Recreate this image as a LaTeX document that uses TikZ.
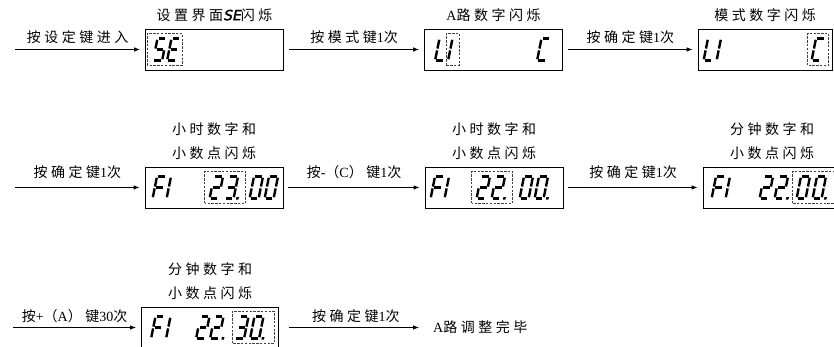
\documentclass[tikz,border=0pt]{standalone}
\usepackage{fontspec}
\setmainfont{Noto Sans CJK SC}[LetterSpace=25]
\newfontfamily\latn{Liberation Serif}
\newfontfamily\segfont[FakeSlant=0.2,FakeBold=2]{DejaVu Sans}
\usetikzlibrary{arrows.meta,positioning}

% segments of one digit (W=9, H=22)
\newcommand{\sgA}{\draw[segline] (1.3,22) -- (7.7,22);}
\newcommand{\sgB}{\draw[segline] (9,20.7) -- (9,11.9);}
\newcommand{\sgC}{\draw[segline] (9,10.1) -- (9,1.3);}
\newcommand{\sgD}{\draw[segline] (1.3,0) -- (7.7,0);}
\newcommand{\sgE}{\draw[segline] (0,1.3) -- (0,10.1);}
\newcommand{\sgF}{\draw[segline] (0,11.9) -- (0,20.7);}
\newcommand{\sgG}{\draw[segline] (1.3,11) -- (7.7,11);}
\newcommand{\sgP}{\fill (11.5,-1.2) rectangle +(2.5,2.5);}
% \segdig{screen}{x offset}{segments}
\newcommand{\segdig}[3]{%
  \begin{scope}[shift={(#1.west)}, xshift=#2pt, yshift=-11pt, xslant=0.2]
    \foreach \s in {#3} {\csname sg\s\endcsname}
  \end{scope}}
% \flashbox{screen}{from}{to}
\newcommand{\flashbox}[3]{%
  \draw[flash] ([xshift=#2pt,yshift=-16pt]#1.west) rectangle ([xshift=#3pt,yshift=16pt]#1.west);}

\begin{document}
\begin{tikzpicture}[x=1pt, y=1pt, >={Latex[length=6pt,width=4.5pt]},
    screen/.style={draw, line width=0.8pt, minimum width=138pt, minimum height=41pt, inner sep=0pt},
    segline/.style={line width=2.4pt},
    flash/.style={draw=black!75, line width=0.7pt, dash pattern=on 2.4pt off 1.4pt},
    flow/.style={->, line width=0.8pt, shorten <=5pt, shorten >=5pt},
    heading/.style={inner sep=0pt, align=center, font=\fontsize{14}{24}\selectfont},
    hint/.style={inner sep=0pt, font=\fontsize{14}{16}\selectfont}]
  \useasboundingbox (0,0) rectangle (834,347);

  % erste Zeile
  \node[screen] (b1) at (214.5,297.5) {};
  \node[screen] (b2) at (493.5,297.5) {};
  \node[screen, minimum width=134pt] (b3) at (765,297.5) {};
  \node[heading, above=7pt of b1] (t1) {设置界面{\segfont SE}闪烁};
  \node[heading, above=7pt of b2] (t2) {{\latn A}路数字闪烁};
  \node[heading, above=7pt of b3] (t3) {模式数字闪烁};
  \coordinate (s1) at (10,297.5);
  \draw[flow] (s1) -- (b1) node[midway, hint, above=5pt] {按设定键进入};
  \draw[flow] (b1) -- (b2) node[midway, hint, above=5pt] {按模式键{\latn 1}次};
  \draw[flow] (b2) -- (b3) node[midway, hint, above=5pt] {按确定键{\latn 1}次};

  \segdig{b1}{8}{A,F,G,C,D}
  \segdig{b1}{22}{A,F,G,E,D}
  \flashbox{b1}{2}{37}
  \segdig{b2}{11}{F,E,D}
  \segdig{b2}{24}{F,E}
  \flashbox{b2}{22}{35}
  \segdig{b2}{113}{A,F,E,D}
  \segdig{b3}{6}{F,E,D}
  \segdig{b3}{19}{F,E}
  \segdig{b3}{114}{A,F,E,D}
  \flashbox{b3}{110}{131}

  % zweite Zeile
  \node[screen] (c1) at (214,159.5) {};
  \node[screen] (c2) at (494,159.5) {};
  \node[screen] (c3) at (772,159.5) {};
  \node[heading, above=7pt of c1] (t4) {小时数字和\\小数点闪烁};
  \node[heading, above=7pt of c2] (t5) {小时数字和\\小数点闪烁};
  \node[heading, above=7pt of c3] (t6) {分钟数字和\\小数点闪烁};
  \coordinate (s2) at (10,159.5);
  \draw[flow] (s2) -- (c1) node[midway, hint, above=8pt] {按确定键{\latn 1}次};
  \draw[flow] (c1) -- (c2) node[midway, hint, above=8pt] {按{\latn -}（{\latn C}）键{\latn 1}次};
  \draw[flow] (c2) -- (c3) node[midway, hint, above=8pt] {按确定键{\latn 1}次};

  \segdig{c1}{8}{A,F,G,E}
  \segdig{c1}{22}{F,E}
  \segdig{c1}{65}{A,B,G,E,D}
  \segdig{c1}{80}{A,B,G,C,D,P}
  \flashbox{c1}{60}{101}
  \segdig{c1}{105}{A,B,C,D,E,F}
  \segdig{c1}{120}{A,B,C,D,E,F}

  \segdig{c2}{6}{A,F,G,E}
  \segdig{c2}{20}{F,E}
  \segdig{c2}{52}{A,B,G,E,D}
  \segdig{c2}{67}{A,B,G,E,D,P}
  \flashbox{c2}{47}{88}
  \segdig{c2}{95}{A,B,C,D,E,F}
  \segdig{c2}{110}{A,B,C,D,E,F,P}

  \segdig{c3}{9}{A,F,G,E}
  \segdig{c3}{23}{F,E}
  \segdig{c3}{57}{A,B,G,E,D}
  \segdig{c3}{72}{A,B,G,E,D,P}
  \flashbox{c3}{90}{145}
  \segdig{c3}{94}{A,B,C,D,E,F}
  \segdig{c3}{110}{A,B,C,D,E,F,P}

  % dritte Zeile
  \node[screen, minimum width=137pt] (d1) at (210,19.5) {};
  \node[heading, above=7pt of d1] (t7) {分钟数字和\\小数点闪烁};
  \node[hint, anchor=west] (done) at (433,19.5) {{\latn A}路调整完毕};
  \coordinate (s3) at (8,19.5);
  \draw[flow] (s3) -- (d1) node[midway, hint, above=4pt] {按{\latn +}（{\latn A}）键{\latn 30}次};
  \draw[flow, shorten <=10pt, shorten >=14pt] (d1) -- (done) node[midway, hint, above=4pt] {按确定键{\latn 1}次};

  \segdig{d1}{10}{A,F,G,E}
  \segdig{d1}{25}{F,E}
  \segdig{d1}{55}{A,B,G,E,D}
  \segdig{d1}{69}{A,B,G,E,D,P}
  \flashbox{d1}{91}{133}
  \segdig{d1}{94}{A,B,G,C,D}
  \segdig{d1}{109}{A,B,C,D,E,F,P}
\end{tikzpicture}
\end{document}
